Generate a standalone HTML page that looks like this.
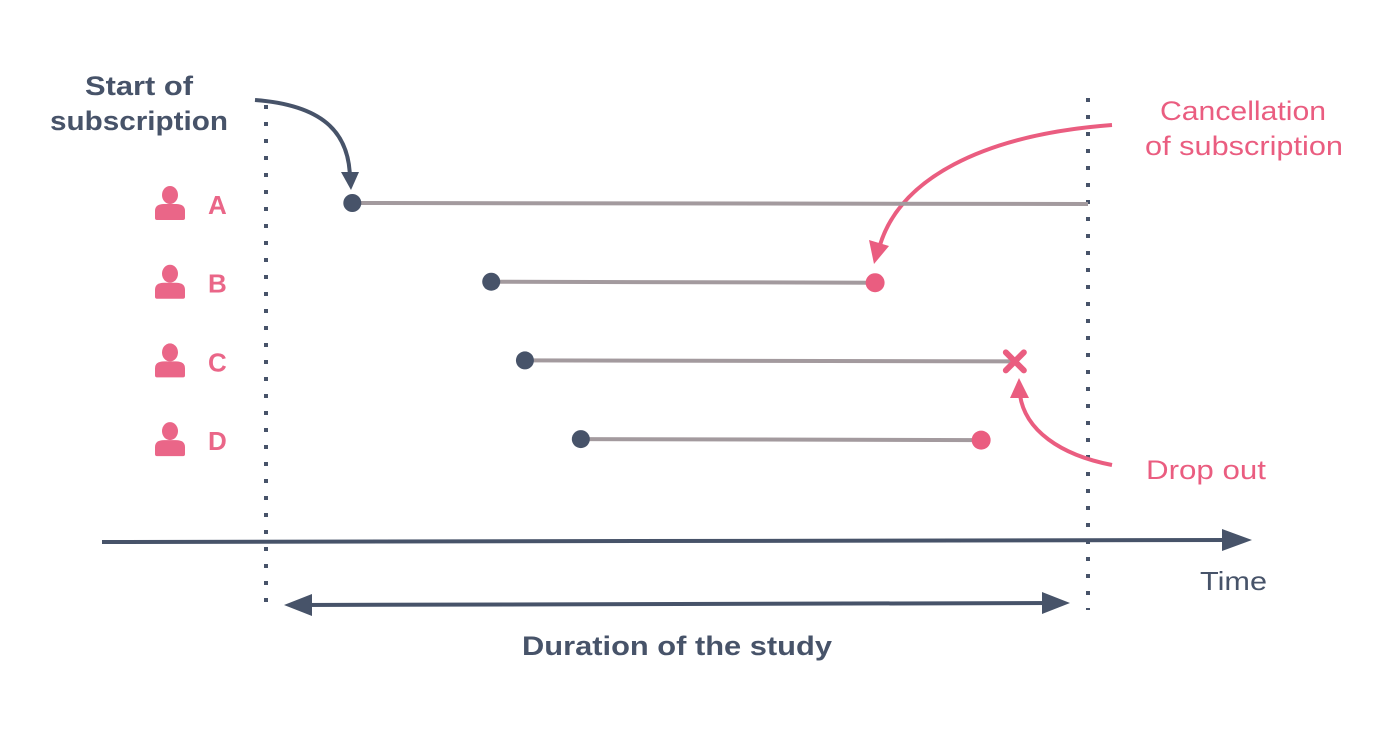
<!DOCTYPE html>
<html><head><meta charset="utf-8"><style>
html,body{margin:0;padding:0;background:#fff;width:1400px;height:733px;overflow:hidden}
svg text{font-family:"Liberation Sans","DejaVu Sans",sans-serif}
</style></head><body>
<svg id="chart" width="1400" height="733" viewBox="0 0 1400 733" xmlns="http://www.w3.org/2000/svg">
<g id="static">
<line x1="266" y1="105" x2="266" y2="610" stroke="#475369" stroke-width="4" stroke-dasharray="4 13"/>
<line x1="1088" y1="98" x2="1088" y2="610" stroke="#475369" stroke-width="4" stroke-dasharray="4 13"/>
<line x1="102" y1="542" x2="1230" y2="540" stroke="#475369" stroke-width="4"/>
<path d="M1252,540 L1222,529 L1222,551 Z" fill="#475369"/>
<text x="1200" y="590" font-size="26" fill="#475369" textLength="67" lengthAdjust="spacingAndGlyphs">Time</text>
<line x1="300" y1="605" x2="1055" y2="603" stroke="#475369" stroke-width="4"/>
<path d="M284,605 L312,594 L312,616 Z" fill="#475369"/>
<path d="M1070,603 L1042,592 L1042,614 Z" fill="#475369"/>
<text x="522" y="655" font-size="27" font-weight="bold" fill="#475369" textLength="310" lengthAdjust="spacingAndGlyphs">Duration of the study</text>
<text font-size="27" font-weight="bold" fill="#475369"><tspan x="85" y="95" textLength="108" lengthAdjust="spacingAndGlyphs">Start of</tspan><tspan x="50" y="130" textLength="178" lengthAdjust="spacingAndGlyphs">subscription</tspan></text>
<path d="M255,100 C320,105 350,130 350,180" fill="none" stroke="#475369" stroke-width="4"/>
<path d="M341,172 L359,172 L351,190 Z" fill="#475369"/>
<text font-size="27" fill="#ea5d80"><tspan x="1160" y="120" textLength="166" lengthAdjust="spacingAndGlyphs">Cancellation</tspan><tspan x="1145" y="155" textLength="198" lengthAdjust="spacingAndGlyphs">of subscription</tspan></text>
<path d="M1112,125 C980,135 900,180 880,245" fill="none" stroke="#ea5d80" stroke-width="4"/>
<path d="M869,240 L889,246 L874,264 Z" fill="#ea5d80"/>
<text x="1146" y="479" font-size="27" fill="#ea5d80" textLength="120" lengthAdjust="spacingAndGlyphs">Drop out</text>
<path d="M1112,465 C1060,455 1025,430 1020,395" fill="none" stroke="#ea5d80" stroke-width="4"/>
<path d="M1019,378 L1029,398 L1010,398 Z" fill="#ea5d80"/>
</g>
<g id="marks"></g>
</svg>
<script>
const subjects = ["A","B","C","D"];
const startTimes = [10.5, 27.4, 31.5, 38.3];
const endTimes = [100, 74.1, 91.1, 87.0];
const endTypes = ["censored","event","dropout","event"];
const NS = "http://www.w3.org/2000/svg";
function xScale(t){ return 266 + t * (1088 - 266) / 100; }
function yScale(i){ return 203 + i * 78.7; }
const g = document.getElementById("marks");
function mk(tag, attrs){ const e = document.createElementNS(NS, tag); for (const k in attrs) e.setAttribute(k, attrs[k]); g.appendChild(e); return e; }
subjects.forEach((s, i) => {
  const y = yScale(i), x0 = xScale(startTimes[i]), x1 = xScale(endTimes[i]);
  const icon = mk("g", {transform: "translate(170," + y + ")"});
  
  
  const head = document.createElementNS(NS, "ellipse");
  head.setAttribute("cx", 0); head.setAttribute("cy", -8); head.setAttribute("rx", 8); head.setAttribute("ry", 9); head.setAttribute("fill", "#ea6688");
  icon.appendChild(head);
  const body = document.createElementNS(NS, "path");
  body.setAttribute("d", "M-15,15 L-15,8 Q-15,1 -6,1 L6,1 Q15,1 15,8 L15,15 Q15,17 13,17 L-13,17 Q-15,17 -15,15 Z");
  body.setAttribute("fill", "#ea6688");
  icon.appendChild(body);
  const lab = mk("text", {x: 208, y: y + 11, "font-size": 26, "font-weight": "bold", fill: "#ea6688"});
  lab.textContent = s;
  
  
  const ln = mk("line", {x1: x0, y1: y, x2: x1, y2: y + 1, stroke: "#a39a9e", "stroke-width": 4});
  
  
  const st = mk("circle", {cx: x0, cy: y, r: 9, fill: "#475369"});
  
  
  if (endTypes[i] === "event") {
    const ev = mk("circle", {cx: x1, cy: y + 1, r: 9.5, fill: "#ea5d80"});
    
    
  } else if (endTypes[i] === "dropout") {
    const d = 9;
    const xm = mk("path", {d: "M" + (x1-d) + "," + (y+1-d) + " L" + (x1+d) + "," + (y+1+d) + " M" + (x1+d) + "," + (y+1-d) + " L" + (x1-d) + "," + (y+1+d), stroke: "#ea5d80", "stroke-width": 6, "stroke-linecap": "round"});
    
    
  }
});
</script>
</body></html>
